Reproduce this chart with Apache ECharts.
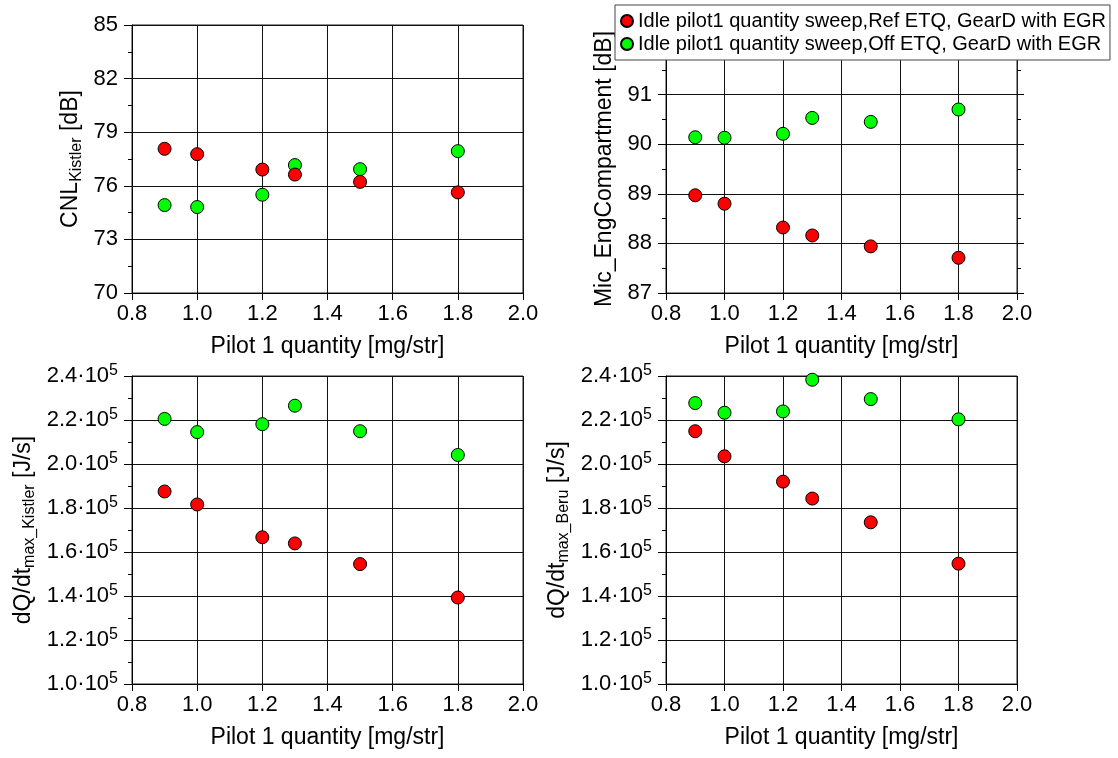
<!DOCTYPE html>
<html>
<head>
<meta charset="utf-8">
<script src="https://cdn.jsdelivr.net/npm/echarts@6/dist/echarts.min.js"></script>
<style>
  html, body { margin: 0; padding: 0; background: #fff; }
  #chart { width: 1118px; height: 758px; }
</style>
</head>
<body>
<div id="chart"></div>
<script>
// ---------- data ----------
const seriesNames = [
  'Idle pilot1 quantity sweep,Ref ETQ, GearD with EGR',
  'Idle pilot1 quantity sweep,Off ETQ, GearD with EGR'
];
const pilotQty = [0.9, 1.0, 1.2, 1.3, 1.5, 1.8];

const cnlRef = [78.07, 77.77, 76.91, 76.63, 76.22, 75.63];
const cnlOff = [74.92, 74.81, 75.50, 77.16, 76.93, 77.94];

const micRef = [88.97, 88.80, 88.32, 88.16, 87.94, 87.71];
const micOff = [90.14, 90.13, 90.21, 90.53, 90.45, 90.70];

const dqKistlerRef = [187500, 181600, 166700, 163900, 154500, 139300];
const dqKistlerOff = [220500, 214500, 218100, 226500, 214900, 204100];

const dqBeruRef = [214900, 203500, 192000, 184300, 173500, 154700];
const dqBeruOff = [227700, 223300, 223900, 238300, 229500, 220300];

const xTicks = [0.8, 1.0, 1.2, 1.4, 1.6, 1.8, 2.0];
const cnlTicks = [70, 73, 76, 79, 82, 85];
const cnlMinorTicks = [71.5, 74.5, 77.5, 80.5, 83.5];
const micTicks = [87, 88, 89, 90, 91, 92];
const dqTicks = [100000, 120000, 140000, 160000, 180000, 200000, 220000, 240000];

const xTitle = 'Pilot 1 quantity [mg/str]';
const yTitles = [
  'CNL{sub|Kistler} [dB]',
  'Mic_EngCompartment [dB]',
  'dQ/dt{sub|max_Kistler} [J/s]',
  'dQ/dt{sub|max_Beru} [J/s]'
];
const colors = ['#ff0000', '#00ff00'];

// ---------- styling helpers ----------
const FONT = '"Liberation Sans", Arial, sans-serif';
const BLACK = '#000';

const grids = [
  { left: 132, top: 25, width: 391, height: 268 },
  { left: 666, top: 45, width: 351, height: 248 },
  { left: 132, top: 376, width: 391, height: 308 },
  { left: 666, top: 376, width: 351, height: 308 }
].map(g => Object.assign({
  show: true, borderColor: '#222', borderWidth: 1,
  containLabel: false, outerBoundsMode: 'none', backgroundColor: 'transparent'
}, g));

const nameStyle = {
  fontSize: 23, fontFamily: FONT, color: BLACK, lineHeight: 28,
  rich: {
    sub: { fontSize: 16, fontFamily: FONT, color: BLACK, lineHeight: 16, verticalAlign: 'bottom' }
  }
};

function makeX(gi) {
  return {
    type: 'value', gridIndex: gi,
    min: xTicks[0], max: xTicks[xTicks.length - 1], interval: 0.2,
    axisLine: { show: true, onZero: false, lineStyle: { color: BLACK, width: 1 } },
    axisTick: { show: true, inside: false, length: 7, lineStyle: { color: BLACK } },
    axisLabel: { fontSize: 22, fontFamily: FONT, color: BLACK, margin: 10,
                 formatter: v => Number(v).toFixed(1) },
    splitLine: { show: true, lineStyle: { color: '#111', width: 1 } },
    name: xTitle, nameLocation: 'middle', nameGap: 42, nameMoveOverlap: false,
    nameTextStyle: { fontSize: 23, fontFamily: FONT, color: BLACK }
  };
}

const dqFormatter = v => '{m|' + (v / 100000).toFixed(1) + '·10}{s|5}';
const dqLabelRich = {
  m: { fontSize: 22, fontFamily: FONT, color: BLACK, lineHeight: 26 },
  s: { fontSize: 16, fontFamily: FONT, color: BLACK, lineHeight: 16, verticalAlign: 'top' }
};

function baseY(gi, name, gap) {
  return {
    type: 'value', gridIndex: gi, position: 'left',
    axisLine: { show: true, onZero: false, lineStyle: { color: BLACK, width: 1 } },
    axisTick: { show: true, inside: false, length: 8, lineStyle: { color: BLACK } },
    minorTick: { show: true, splitNumber: 2, length: 4, lineStyle: { color: BLACK } },
    splitLine: { show: true, lineStyle: { color: '#111', width: 1 } },
    minorSplitLine: { show: false },
    axisLabel: { fontSize: 22, fontFamily: FONT, color: BLACK, margin: 14 },
    name: name, nameLocation: 'middle', nameRotate: 90, nameGap: gap, nameMoveOverlap: false,
    nameTextStyle: nameStyle
  };
}

// TL main
const yTL = baseY(0, yTitles[0], 47);
yTL.min = cnlTicks[0]; yTL.max = cnlTicks[cnlTicks.length - 1];
yTL.minorTick = { show: false };
yTL.axisLabel.customValues = cnlTicks;
yTL.axisTick.customValues = cnlTicks;

// TL minor-tick helper
const yTLminor = {
  type: 'value', gridIndex: 0, position: 'left',
  min: cnlTicks[0], max: cnlTicks[cnlTicks.length - 1],
  axisLine: { show: false, onZero: false },
  axisTick: { show: true, inside: false, length: 4, customValues: cnlMinorTicks, lineStyle: { color: BLACK } },
  axisLabel: { show: false, customValues: cnlMinorTicks },
  splitLine: { show: false }
};

// TR main
const yTR = baseY(1, yTitles[1], 47);
yTR.min = micTicks[0]; yTR.max = micTicks[micTicks.length - 1]; yTR.interval = 1;

// TR right mirror axis
const yTRright = {
  type: 'value', gridIndex: 1, position: 'right',
  min: micTicks[0], max: micTicks[micTicks.length - 1], interval: 1,
  axisLine: { show: true, onZero: false, lineStyle: { color: '#222', width: 1 } },
  axisTick: { show: true, inside: false, length: 7, lineStyle: { color: BLACK } },
  minorTick: { show: true, splitNumber: 2, length: 4, lineStyle: { color: BLACK } },
  axisLabel: { show: false },
  splitLine: { show: false }
};

// BL
const yBL = baseY(2, yTitles[2], 94);
yBL.min = dqTicks[0]; yBL.max = dqTicks[dqTicks.length - 1]; yBL.interval = 20000;
yBL.axisLabel.formatter = dqFormatter; yBL.axisLabel.rich = dqLabelRich;

// BR
const yBR = baseY(3, yTitles[3], 94);
yBR.min = dqTicks[0]; yBR.max = dqTicks[dqTicks.length - 1]; yBR.interval = 20000;
yBR.axisLabel.formatter = dqFormatter; yBR.axisLabel.rich = dqLabelRich;

function sc(name, xi, yi, vals, color, z) {
  return {
    type: 'scatter', name: name, xAxisIndex: xi, yAxisIndex: yi,
    data: pilotQty.map((x, i) => [x, vals[i]]),
    symbol: 'circle', symbolSize: 13, z: z,
    itemStyle: { color: color, borderColor: BLACK, borderWidth: 1, opacity: 1 },
    emphasis: { disabled: true },
    animation: false
  };
}

const option = {
  backgroundColor: '#fff',
  animation: false,
  textStyle: { fontFamily: FONT },
  grid: grids,
  xAxis: [makeX(0), makeX(1), makeX(2), makeX(3)],
  yAxis: [yTL, yTLminor, yTR, yTRright, yBL, yBR],
  legend: {
    data: seriesNames,
    orient: 'vertical', left: 615, top: 5,
    padding: [6, 4, 6, 5], itemGap: 3,
    itemWidth: 12, itemHeight: 12, icon: 'circle',
    backgroundColor: '#fff', borderColor: '#444', borderWidth: 1, borderRadius: 0,
    textStyle: { fontSize: 20, fontFamily: FONT, color: BLACK },
    selectedMode: false, z: 10
  },
  series: [
    sc(seriesNames[1], 0, 0, cnlOff, colors[1], 2),
    sc(seriesNames[0], 0, 0, cnlRef, colors[0], 3),
    sc(seriesNames[1], 1, 2, micOff, colors[1], 2),
    sc(seriesNames[0], 1, 2, micRef, colors[0], 3),
    sc(seriesNames[1], 2, 4, dqKistlerOff, colors[1], 2),
    sc(seriesNames[0], 2, 4, dqKistlerRef, colors[0], 3),
    sc(seriesNames[1], 3, 5, dqBeruOff, colors[1], 2),
    sc(seriesNames[0], 3, 5, dqBeruRef, colors[0], 3)
  ]
};

const chart = echarts.init(document.getElementById('chart'), null, { renderer: 'canvas' });
chart.setOption(option);
</script>
</body>
</html>
